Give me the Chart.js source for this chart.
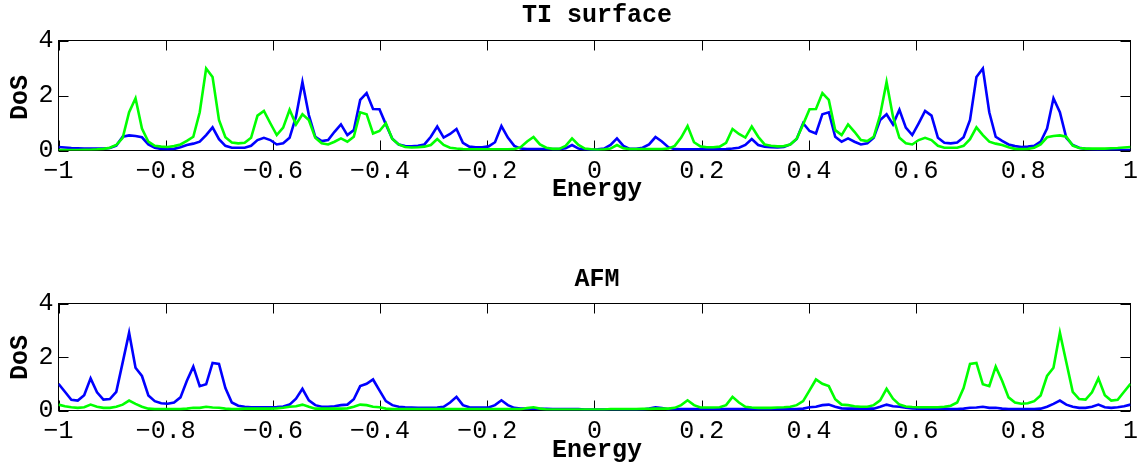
<!DOCTYPE html>
<html>
<head>
<meta charset="utf-8">
<script src="https://cdn.jsdelivr.net/npm/chart.js@4.4.1/dist/chart.umd.min.js"></script>
<style>
  body { margin: 0; background: #fff; }
  #page { position: relative; width: 1144px; height: 464px; overflow: hidden; font-family: 'Liberation Mono', monospace; }
  canvas { position: absolute; left: 0; }
  .lbl { position: absolute; font-weight: bold; font-size: 25px; line-height: 25px; white-space: nowrap; text-align: center; color: #000; }
  .ylbl { width: 100px; height: 25px; transform: rotate(-90deg); }
</style>
</head>
<body>
<div id="page">
  <canvas id="chart-ti" width="1144" height="232" style="top:0"></canvas>
  <canvas id="chart-afm" width="1144" height="232" style="top:232px"></canvas>
  <div class="lbl" style="left:497px;width:200px;top:3px">TI surface</div>
  <div class="lbl" style="left:497px;width:200px;top:177px">Energy</div>
  <div class="lbl ylbl" style="left:-30px;top:85px">DoS</div>
  <div class="lbl" style="left:497px;width:200px;top:267px">AFM</div>
  <div class="lbl" style="left:497px;width:200px;top:438px">Energy</div>
  <div class="lbl ylbl" style="left:-30px;top:345px">DoS</div>
</div>
<script>
'use strict';

// ******GLOBALS******

// energy grid, 168 points from -1 to 1
let energy = [];
for (let i = 0; i < 168; i++) {
  energy.push(-1 + i * 2 / 167);
}

let yTicks = [0, 2, 4];

// TI surface
let tiBlue = [
  0.13, 0.11, 0.09, 0.08, 0.07, 0.07, 0.07, 0.07, 0.09, 0.18,
  0.5, 0.55, 0.53, 0.48, 0.22, 0.1, 0.06, 0.05, 0.06, 0.12,
  0.2, 0.25, 0.32, 0.56, 0.84, 0.41, 0.17, 0.1, 0.1, 0.1,
  0.17, 0.38, 0.46, 0.38, 0.22, 0.26, 0.46, 1.23, 2.49, 1.29,
  0.5, 0.34, 0.38, 0.68, 0.95, 0.56, 0.74, 1.84, 2.09, 1.51,
  1.5, 0.95, 0.43, 0.22, 0.16, 0.15, 0.17, 0.22, 0.5, 0.87,
  0.47, 0.6, 0.78, 0.28, 0.14, 0.12, 0.12, 0.15, 0.3, 0.89,
  0.47, 0.17, 0.07, 0.05, 0.05, 0.05, 0.05, 0.05, 0.05, 0.08,
  0.2, 0.07, 0.04, 0.03,
  0.04, 0.07, 0.2, 0.44, 0.17, 0.06, 0.06, 0.1, 0.22, 0.49,
  0.33, 0.12, 0.05, 0.04, 0.04, 0.04, 0.04, 0.04, 0.04, 0.04,
  0.05, 0.07, 0.1, 0.2, 0.42, 0.2, 0.14, 0.12, 0.11, 0.13,
  0.22, 0.42, 0.99, 0.71, 0.62, 1.32, 1.39, 0.5, 0.32, 0.44,
  0.32, 0.22, 0.26, 0.46, 1.11, 1.32, 0.95, 1.48, 0.83, 0.56,
  0.99, 1.44, 1.27, 0.46, 0.28, 0.26, 0.29, 0.48, 1.11, 2.67,
  2.98, 1.39, 0.5, 0.35, 0.22, 0.16, 0.13, 0.14, 0.17, 0.32,
  0.8, 1.9, 1.39, 0.46, 0.2, 0.1, 0.06, 0.04, 0.03, 0.03,
  0.02, 0.02, 0.02, 0.02
];

let tiGreen = [
  0.02, 0.02, 0.02, 0.02, 0.03, 0.03, 0.04, 0.06, 0.1, 0.2,
  0.46, 1.39, 1.9, 0.8, 0.32, 0.17, 0.14, 0.13, 0.16, 0.22,
  0.35, 0.5, 1.39, 2.98, 2.67, 1.11, 0.48, 0.29, 0.26, 0.28,
  0.46, 1.27, 1.44, 0.99, 0.56, 0.83, 1.48, 0.95, 1.32, 1.11,
  0.46, 0.26, 0.22, 0.32, 0.44, 0.32, 0.5, 1.39, 1.32, 0.62,
  0.71, 0.99, 0.42, 0.22, 0.13, 0.11, 0.12, 0.14, 0.2, 0.42,
  0.2, 0.1, 0.07, 0.05, 0.04, 0.04, 0.04, 0.04, 0.04, 0.04,
  0.04, 0.05, 0.12, 0.33, 0.49, 0.22, 0.1, 0.06, 0.06, 0.17,
  0.44, 0.2, 0.07, 0.04,
  0.03, 0.04, 0.07, 0.2, 0.08, 0.05, 0.05, 0.05, 0.05, 0.05,
  0.05, 0.07, 0.17, 0.47, 0.89, 0.3, 0.15, 0.12, 0.12, 0.14,
  0.28, 0.78, 0.6, 0.47, 0.87, 0.5, 0.22, 0.17, 0.15, 0.16,
  0.22, 0.43, 0.95, 1.5, 1.51, 2.09, 1.84, 0.74, 0.56, 0.95,
  0.68, 0.38, 0.34, 0.5, 1.29, 2.49, 1.23, 0.46, 0.26, 0.22,
  0.38, 0.46, 0.38, 0.17, 0.1, 0.1, 0.1, 0.17, 0.41, 0.84,
  0.56, 0.32, 0.25, 0.2, 0.12, 0.06, 0.05, 0.06, 0.1, 0.22,
  0.48, 0.53, 0.55, 0.5, 0.18, 0.09, 0.07, 0.07, 0.07, 0.07,
  0.08, 0.09, 0.11, 0.13
];

// AFM
let afmBlue = [
  1.0, 0.7, 0.4, 0.37, 0.57, 1.2, 0.68, 0.41, 0.43, 0.7,
  1.8, 2.91, 1.6, 1.29, 0.56, 0.35, 0.27, 0.25, 0.3, 0.49,
  1.11, 1.64, 0.91, 0.98, 1.78, 1.74, 0.84, 0.3, 0.18, 0.14,
  0.12, 0.12, 0.12, 0.12, 0.13, 0.15, 0.22, 0.44, 0.81, 0.38,
  0.2, 0.14, 0.14, 0.16, 0.2, 0.22, 0.42, 0.91, 1.0, 1.16,
  0.75, 0.35, 0.2, 0.14, 0.12, 0.11, 0.1, 0.1, 0.1, 0.11,
  0.14, 0.3, 0.51, 0.2, 0.12, 0.11, 0.11, 0.11, 0.2, 0.38,
  0.2, 0.1, 0.07, 0.07, 0.07, 0.06, 0.06, 0.05, 0.05, 0.05,
  0.05, 0.05, 0.04, 0.04,
  0.04, 0.04, 0.04, 0.04, 0.04, 0.04, 0.04, 0.04, 0.07, 0.12,
  0.09, 0.05, 0.05, 0.05, 0.05, 0.05, 0.05, 0.05, 0.05, 0.05,
  0.05, 0.05, 0.05, 0.05, 0.05, 0.05, 0.05, 0.05, 0.05, 0.05,
  0.05, 0.05, 0.07, 0.12, 0.14, 0.2, 0.22, 0.14, 0.08, 0.07,
  0.07, 0.07, 0.07, 0.07, 0.14, 0.22, 0.16, 0.14, 0.1, 0.08,
  0.07, 0.07, 0.07, 0.07, 0.07, 0.05, 0.05, 0.07, 0.1, 0.11,
  0.14, 0.1, 0.1, 0.07, 0.05, 0.05, 0.05, 0.05, 0.05, 0.07,
  0.14, 0.25, 0.37, 0.22, 0.14, 0.1, 0.1, 0.14, 0.22, 0.12,
  0.1, 0.12, 0.16, 0.22
];

let afmGreen = [
  0.22, 0.16, 0.12, 0.1, 0.12, 0.22, 0.14, 0.1, 0.1, 0.14,
  0.22, 0.37, 0.25, 0.14, 0.07, 0.05, 0.05, 0.05, 0.05, 0.05,
  0.07, 0.1, 0.1, 0.14, 0.11, 0.1, 0.07, 0.05, 0.05, 0.07,
  0.07, 0.07, 0.07, 0.07, 0.08, 0.1, 0.14, 0.16, 0.22, 0.14,
  0.07, 0.07, 0.07, 0.07, 0.07, 0.08, 0.14, 0.22, 0.2, 0.14,
  0.12, 0.07, 0.05, 0.05, 0.05, 0.05, 0.05, 0.05, 0.05, 0.05,
  0.05, 0.05, 0.05, 0.05, 0.05, 0.05, 0.05, 0.05, 0.05, 0.05,
  0.05, 0.05, 0.05, 0.09, 0.12, 0.07, 0.04, 0.04, 0.04, 0.04,
  0.04, 0.04, 0.04, 0.04,
  0.04, 0.04, 0.05, 0.05, 0.05, 0.05, 0.05, 0.06, 0.06, 0.07,
  0.07, 0.07, 0.1, 0.2, 0.38, 0.2, 0.11, 0.11, 0.11, 0.12,
  0.2, 0.51, 0.3, 0.14, 0.11, 0.1, 0.1, 0.1, 0.11, 0.12,
  0.14, 0.2, 0.35, 0.75, 1.16, 1.0, 0.91, 0.42, 0.22, 0.2,
  0.16, 0.14, 0.14, 0.2, 0.38, 0.81, 0.44, 0.22, 0.15, 0.13,
  0.12, 0.12, 0.12, 0.12, 0.14, 0.18, 0.3, 0.84, 1.74, 1.78,
  0.98, 0.91, 1.64, 1.11, 0.49, 0.3, 0.25, 0.27, 0.35, 0.56,
  1.29, 1.6, 2.91, 1.8, 0.7, 0.43, 0.41, 0.68, 1.2, 0.57,
  0.37, 0.4, 0.7, 1.0
];

// ****** HELPERS ******
function toPoints(values) {
  return values.map((v, i) => ({ x: energy[i], y: v }));
}

function fmtTick(v) {
  let r = Math.round(v * 10) / 10;
  if (r === 0) return '0';
  return String(r).replace('-', '\u2212');
}

// box round the plot with inward ticks, like matlab axes
const framePlugin = {
  id: 'frame',
  beforeDatasetsDraw(chart) {
    let ctx = chart.ctx;
    let a = chart.chartArea;
    let xs = chart.scales.x;
    let ys = chart.scales.y;
    ctx.save();
    ctx.strokeStyle = '#000';
    ctx.lineWidth = 1;
    ctx.strokeRect(a.left, a.top, a.right - a.left, a.bottom - a.top);
    ctx.beginPath();
    xs.ticks.forEach(t => {
      let px = Math.round(xs.getPixelForValue(t.value)) + 0.5;
      ctx.moveTo(px, a.bottom); ctx.lineTo(px, a.bottom - 10);
      ctx.moveTo(px, a.top); ctx.lineTo(px, a.top + 10);
    });
    ys.ticks.forEach(t => {
      let py = Math.round(ys.getPixelForValue(t.value)) + 0.5;
      ctx.moveTo(a.left, py); ctx.lineTo(a.left + 10, py);
      ctx.moveTo(a.right, py); ctx.lineTo(a.right - 10, py);
    });
    ctx.stroke();
    ctx.restore();
  }
};

function makeChart(canvasId, blue, green, padTop, xHeight) {
  let ctx = document.getElementById(canvasId).getContext('2d');
  return new Chart(ctx, {
    type: 'line',
    data: {
      datasets: [
        { data: toPoints(blue), borderColor: '#0000ff', borderWidth: 2.6, pointRadius: 0, order: 2 },
        { data: toPoints(green), borderColor: '#00ff00', borderWidth: 2.6, pointRadius: 0, order: 1 }
      ]
    },
    options: {
      responsive: false,
      animation: false,
      devicePixelRatio: 1,
      layout: { padding: { left: 0, right: 8.5, top: padTop, bottom: 0 } },
      plugins: { legend: { display: false }, tooltip: { enabled: false } },
      scales: {
        x: {
          type: 'linear',
          min: -1,
          max: 1,
          grid: { display: false, drawTicks: false },
          border: { display: false },
          afterFit: s => { s.height = xHeight; },
          ticks: {
            stepSize: 0.2,
            padding: 6,
            maxRotation: 0,
            autoSkip: false,
            color: '#000',
            font: { family: 'Liberation Mono', size: 25 },
            callback: fmtTick
          }
        },
        y: {
          min: 0,
          max: 4,
          grid: { display: false, drawTicks: false },
          border: { display: false },
          afterFit: s => { s.width = 58.5; },
          afterBuildTicks: s => { s.ticks = yTicks.map(v => ({ value: v })); },
          ticks: {
            padding: 5,
            color: '#000',
            font: { family: 'Liberation Mono', size: 25 },
            callback: v => String(v)
          }
        }
      }
    },
    plugins: [framePlugin]
  });
}

makeChart('chart-ti', tiBlue, tiGreen, 40.5, 81.5);
makeChart('chart-afm', afmBlue, afmGreen, 71.5, 53.5);
</script>
</body>
</html>
